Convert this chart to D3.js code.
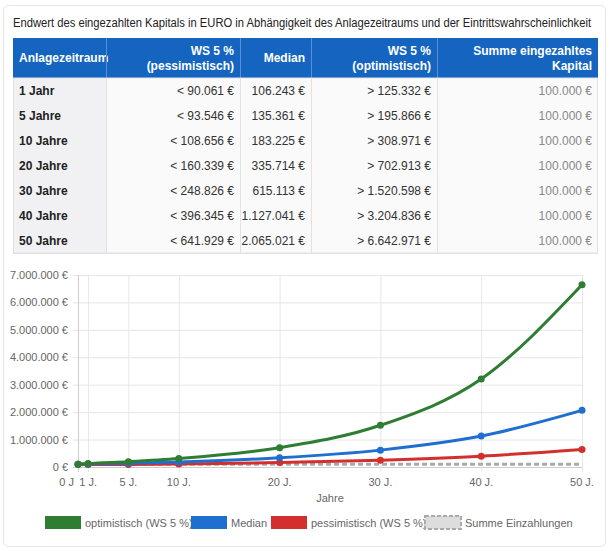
<!DOCTYPE html>
<html><head><meta charset="utf-8">
<script src="https://cdn.jsdelivr.net/npm/d3@7"></script>
<style>
body{margin:0;font-family:"Liberation Sans",Arial,sans-serif;background:#fff;}
</style></head><body>
<svg id="c" width="610" height="551"></svg>
<script>
// data
var periods = ["1 Jahr","5 Jahre","10 Jahre","20 Jahre","30 Jahre","40 Jahre","50 Jahre"];
var years = [0, 1, 5, 10, 20, 30, 40, 50];
var pessimistic = [100000, 90061, 93546, 108656, 160339, 248826, 396345, 641929];
var median = [100000, 106243, 135361, 183225, 335714, 615113, 1127041, 2065021];
var optimistic = [100000, 125332, 195866, 308971, 702913, 1520598, 3204836, 6642971];
var deposits = [100000, 100000, 100000, 100000, 100000, 100000, 100000, 100000];
var yTicks = [0, 1000000, 2000000, 3000000, 4000000, 5000000, 6000000, 7000000];

var svg = d3.select("#c");
var fmt = d3.formatLocale({decimal: ",", thousands: ".", grouping: [3], currency: ["", " €"]}).format(",.0f");
var eur = v => fmt(v) + " €";

// card
svg.append("rect").attr("x", 3.5).attr("y", 5.5).attr("width", 602).attr("height", 541)
  .attr("rx", 5).attr("fill", "#fff").attr("stroke", "#e6e6e6");

svg.append("text").attr("x", 13).attr("y", 27).attr("font-size", 12).attr("fill", "#222")
  .attr("textLength", 578).attr("lengthAdjust", "spacingAndGlyphs")
  .text("Endwert des eingezahlten Kapitals in EURO in Abhängigkeit des Anlagezeitraums und der Eintrittswahrscheinlichkeit");

// table
var cols = [13, 106, 240, 311, 437, 598];
var headTop = 38, headH = 40, rowH = 25;
var tbl = svg.append("g").attr("font-size", 12);
tbl.append("rect").attr("x", cols[0]).attr("y", headTop).attr("width", cols[5] - cols[0]).attr("height", headH).attr("fill", "#1565c0");
var heads = [["Anlagezeitraum"], ["WS 5 %", "(pessimistisch)"], ["Median"], ["WS 5 %", "(optimistisch)"], ["Summe eingezahltes", "Kapital"]];
heads.forEach((h, i) => {
  var left = i == 0;
  var x = left ? cols[i] + 6 : cols[i + 1] - 6;
  var t = tbl.append("text").attr("x", x).attr("text-anchor", left ? "start" : "end")
    .attr("fill", "#fff").attr("font-weight", "bold");
  if (h.length == 1) t.attr("y", headTop + 24).text(h[0]);
  else h.forEach((s, k) => t.append("tspan").attr("x", x).attr("y", headTop + 17 + k * 15).text(s));
});
for (var i = 1; i < 5; i++)
  tbl.append("line").attr("x1", cols[i] + .5).attr("x2", cols[i] + .5).attr("y1", headTop).attr("y2", headTop + headH).attr("stroke", "#5a8fd6");

periods.forEach((p, r) => {
  var y0 = headTop + headH + r * rowH;
  tbl.append("rect").attr("x", cols[0]).attr("y", y0).attr("width", cols[1] - cols[0]).attr("height", rowH).attr("fill", "#f1f1f3");
  tbl.append("rect").attr("x", cols[1]).attr("y", y0).attr("width", cols[5] - cols[1]).attr("height", rowH).attr("fill", "#fafafa");
  tbl.append("line").attr("x1", cols[0]).attr("x2", cols[5]).attr("y1", y0 + rowH + .5).attr("y2", y0 + rowH + .5).attr("stroke", "#e2e2e2");
  var ty = y0 + 17;
  tbl.append("text").attr("x", cols[0] + 6).attr("y", ty).attr("font-weight", "bold").attr("fill", "#222").text(p);
  var vals = ["< " + eur(pessimistic[r + 1]), eur(median[r + 1]), "> " + eur(optimistic[r + 1]), eur(deposits[r + 1])];
  vals.forEach((v, c) => tbl.append("text").attr("x", cols[c + 2] - 6).attr("y", ty).attr("text-anchor", "end")
    .attr("fill", c == 3 ? "#888" : "#333").text(v));
});
for (var i = 1; i < 5; i++)
  tbl.append("line").attr("x1", cols[i] + .5).attr("x2", cols[i] + .5).attr("y1", headTop + headH).attr("y2", headTop + headH + 7 * rowH).attr("stroke", "#e2e2e2");
tbl.append("rect").attr("x", cols[0] + .5).attr("y", headTop + headH).attr("width", cols[5] - cols[0] - 1).attr("height", 7 * rowH).attr("fill", "none").attr("stroke", "#e2e2e2");

// chart
var x = d3.scaleLinear().domain([0, 50]).range([78, 582]);
var y = d3.scaleLinear().domain([0, 7000000]).range([467, 275]);
var ch = svg.append("g").attr("font-size", 11).attr("fill", "#666");

yTicks.forEach(v => {
  ch.append("line").attr("x1", x(0) - 5).attr("x2", x(50)).attr("y1", y(v) + .5).attr("y2", y(v) + .5)
    .attr("stroke", v == 0 ? "#ccc" : "#e6e6e6");
  ch.append("text").attr("x", x(0) - 10).attr("y", y(v) + 4).attr("text-anchor", "end").text(eur(v));
});
years.forEach(v => {
  ch.append("line").attr("x1", x(v) + .5).attr("x2", x(v) + .5).attr("y1", y(7000000)).attr("y2", y(0) + 5)
    .attr("stroke", v == 0 ? "#ccc" : "#e6e6e6");
  // "0 J." and "1 J." overlap in the reference too
  ch.append("text").attr("x", v == 0 ? x(v) - 4 : x(v)).attr("y", 486).attr("text-anchor", v == 0 ? "end" : "middle")
    .text(v == 0 ? "0 J" : v + " J.");
});
ch.append("text").attr("x", 330).attr("y", 502).attr("text-anchor", "middle").text("Jahre");

var line = d3.line().x((d, i) => x(years[i])).y(d => y(d)).curve(d3.curveMonotoneX);
var series = [
  {name: "Summe Einzahlungen", vals: deposits, color: "#aaa", dash: "5,3", pts: false},
  {name: "pessimistisch (WS 5 %)", vals: pessimistic, color: "#d32f2f"},
  {name: "Median", vals: median, color: "#1e6fd0"},
  {name: "optimistisch (WS 5 %)", vals: optimistic, color: "#2e7d32"}
];
series.forEach(s => {
  ch.append("path").attr("d", line(s.vals)).attr("fill", "none").attr("stroke", s.color)
    .attr("stroke-width", 3).attr("stroke-dasharray", s.dash || null);
  if (s.pts !== false)
    s.vals.forEach((v, i) => ch.append("circle").attr("cx", x(years[i])).attr("cy", y(v)).attr("r", 3.5).attr("fill", s.color));
});

// legend
var leg = [
  {name: "optimistisch (WS 5 %)", color: "#2e7d32", x: 45},
  {name: "Median", color: "#1e6fd0", x: 191},
  {name: "pessimistisch (WS 5 %)", color: "#d32f2f", x: 271},
  {name: "Summe Einzahlungen", color: "#ddd", x: 425, dash: true}
];
leg.forEach(l => {
  var r = ch.append("rect").attr("x", l.x).attr("y", 516).attr("width", 36).attr("height", 13).attr("fill", l.color);
  if (l.dash) r.attr("stroke", "#aaa").attr("stroke-width", 2).attr("stroke-dasharray", "4,2");
  ch.append("text").attr("x", l.x + 40).attr("y", 527).attr("font-size", 11).text(l.name);
});
</script>
</body></html>
